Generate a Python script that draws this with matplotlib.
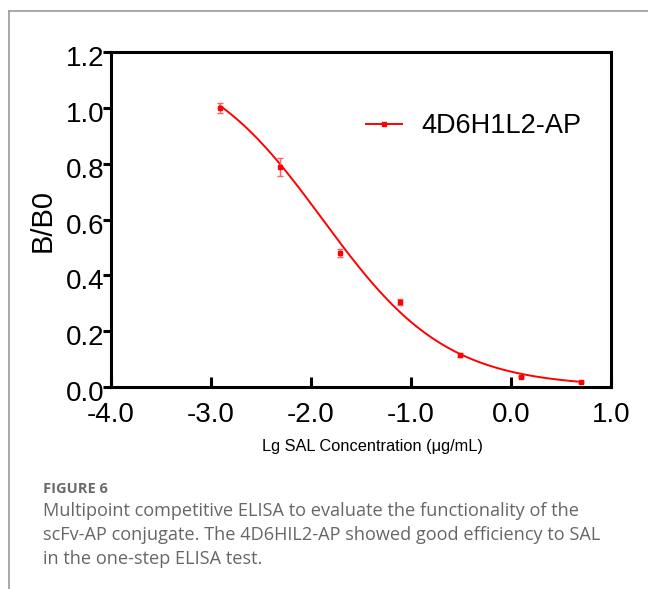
import numpy as np
import matplotlib.pyplot as plt
from matplotlib.lines import Line2D
from matplotlib.transforms import ScaledTranslation

plt.rcParams['font.family'] = ['Liberation Sans', 'DejaVu Sans']

# data: log10 concentration, B/B0 mean and sd
lg_conc = [-2.91, -2.31, -1.71, -1.11, -0.51, 0.10, 0.70]
b_b0 = [1.00, 0.789, 0.48, 0.305, 0.115, 0.036, 0.018]
sd = [0.019, 0.033, 0.014, 0.012, 0.007, 0.004, 0.004]

# four-parameter logistic fit
top, bottom, log_ic50, hill = 1.2, 0.0, -1.883, 0.70

xticks = [-4.0, -3.0, -2.0, -1.0, 0.0, 1.0]
yticks = [0.0, 0.2, 0.4, 0.6, 0.8, 1.0, 1.2]

W, H = 648, 589
fig = plt.figure(figsize=(W / 100, H / 100), dpi=100)
ax = fig.add_axes([111 / W, 1 - 387 / H, 500 / W, 335 / H])

xs = np.linspace(lg_conc[0], lg_conc[-1], 200)
fit = bottom + (top - bottom) / (1 + 10 ** ((xs - log_ic50) * hill))
ax.plot(xs, fit, color='red', lw=1.4)
ax.errorbar(lg_conc, b_b0, yerr=sd, fmt='s', ms=3, color='red',
            ecolor='#ff6060', elinewidth=1, capsize=2.5, capthick=1)

# legend handle: line with small square marker
h = Line2D([], [], color='red', lw=1.4, marker='s', ms=3)
ax.legend([h], ['4D6H1L2-AP'], loc='upper right', bbox_to_anchor=(0.99, 0.89),
          frameon=False, fontsize=19.5, handlelength=1.33, handletextpad=0.74)

ax.set_xlim(-4, 1)
ax.set_ylim(0, 1.2)
ax.set_xticks(xticks)
ax.set_xticklabels([f'{t:.1f}' for t in xticks])
ax.set_yticks(yticks)
ax.set_yticklabels([f'{t:.1f}' for t in yticks])
ax.tick_params(axis='x', direction='in', length=7, width=2.2, labelsize=20, pad=11)
ax.tick_params(axis='y', direction='out', length=6, width=2.2, labelsize=20, pad=-1)
for s in ax.spines.values():
    s.set_linewidth(2.2)
# y labels sit a little low in the original (0.0 runs into -4.0)
shift = ScaledTranslation(0, -4 / 100, fig.dpi_scale_trans)
for lbl in ax.get_yticklabels():
    lbl.set_transform(lbl.get_transform() + shift)

fig.text(43 / W, 1 - 221 / H, 'B/B0', fontsize=21, rotation=90, ha='center', va='center')
fig.text(372.5 / W, 1 - 447 / H, 'Lg SAL Concentration (μg/mL)', fontsize=11.8,
         ha='center', va='center')

# gray frame around the figure panel
fig.add_artist(Line2D([9 / W, 9 / W], [0, 1 - 11 / H], color='#999999', lw=1.2,
                      transform=fig.transFigure))
fig.add_artist(Line2D([9 / W, 1], [1 - 11 / H, 1 - 11 / H], color='#999999', lw=1.2,
                      transform=fig.transFigure))

cap_font = ['Open Sans', 'DejaVu Sans']
fig.text(43 / W, 1 - 493 / H, 'FIGURE 6', fontsize=10.5, color='#6b6b6b',
         family=cap_font, fontweight='bold', va='baseline')
caption = ['Multipoint competitive ELISA to evaluate the functionality of the',
           'scFv-AP conjugate. The 4D6HIL2-AP showed good efficiency to SAL',
           'in the one-step ELISA test.']
for i, line in enumerate(caption):
    fig.text(43 / W, 1 - (516 + 24 * i) / H, line, fontsize=13.1, color='#666666',
             family=cap_font, va='baseline')

fig.savefig('out.png', dpi=100)
